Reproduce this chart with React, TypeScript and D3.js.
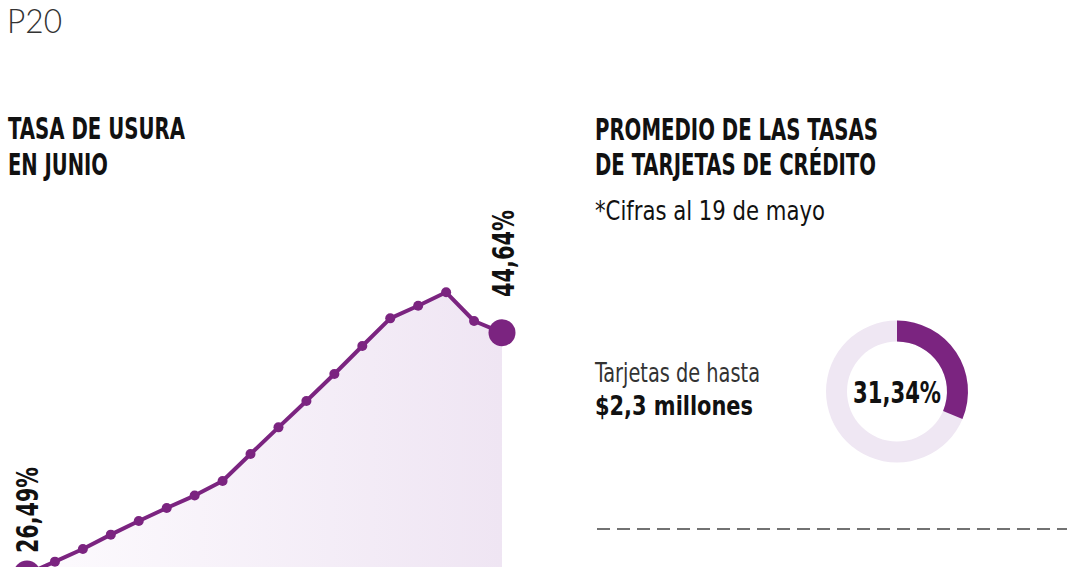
import React from "react";
import * as d3 from "d3";

// tasa de usura, enero 2022 - junio 2023
const months = [
  "ene-22", "feb-22", "mar-22", "abr-22", "may-22", "jun-22",
  "jul-22", "ago-22", "sep-22", "oct-22", "nov-22", "dic-22",
  "ene-23", "feb-23", "mar-23", "abr-23", "may-23", "jun-23",
];
const usura = [
  26.49, 27.42, 28.37, 29.45, 30.48, 31.45,
  32.39, 33.49, 35.52, 37.52, 39.5, 41.53,
  43.64, 45.72, 46.67, 47.68, 45.52, 44.64,
];
const highlightLabels = ["26,49%", "44,64%"];

// promedio tarjetas de crédito
const donutValue = 31.34;
const donutLabel = "31,34%";

const W = 1080;
const H = 567;
const PURPLE = "#7b2480";
const LIGHT = "#efe7f3";
const FONT = "'Liberation Sans Narrow', 'DejaVu Sans Condensed', 'Roboto', sans-serif";

const App = () => {
  const data = months.map((m, i) => ({ m, v: usura[i] }));

  const x = d3.scalePoint<string>().domain(months).range([27, 502]);
  const y = d3
    .scaleLinear()
    .domain([usura[0], usura[usura.length - 1]])
    .range([574, 332.7]);

  const line = d3
    .line<{ m: string; v: number }>()
    .x((d) => x(d.m)!)
    .y((d) => y(d.v));

  const area = d3
    .area<{ m: string; v: number }>()
    .x((d) => x(d.m)!)
    .y0(H + 40)
    .y1((d) => y(d.v));

  const first = data[0];
  const last = data[data.length - 1];

  // dona
  const cx = 897;
  const cy = 391.5;
  const arc = d3.arc().innerRadius(50).outerRadius(71);
  const angle = d3.scaleLinear().domain([0, 100]).range([0, 2 * Math.PI]);

  return (
    <svg
      width={W}
      height={H}
      style={{ position: "absolute", left: 0, top: 0, background: "#fff" }}
      fontFamily={FONT}
    >
      <defs>
        <linearGradient id="areaFill" gradientUnits="userSpaceOnUse" x1={x(first.m)} x2={x(last.m)} y1={0} y2={0}>
          <stop offset="0%" stopColor="#fdfbfe" />
          <stop offset="100%" stopColor="#efe5f3" />
        </linearGradient>
      </defs>

      <text x={7} y={33} fontSize={34} fontWeight={300} fill="#333" textLength={55} lengthAdjust="spacingAndGlyphs"
        fontFamily="Lato, 'Open Sans', sans-serif">
        P20
      </text>

      {/* titulo izquierdo */}
      <g fontWeight="bold" fontSize={30} fill="#111">
        <text x={8} y={139} textLength={177} lengthAdjust="spacingAndGlyphs">TASA DE USURA</text>
        <text x={8} y={175} textLength={100} lengthAdjust="spacingAndGlyphs">EN JUNIO</text>
      </g>

      {/* area y linea */}
      <path d={area(data)!} fill="url(#areaFill)" />
      <path d={line(data)!} fill="none" stroke={PURPLE} strokeWidth={4} strokeLinejoin="round" />
      {data.slice(1, -1).map((d) => (
        <circle key={d.m} cx={x(d.m)} cy={y(d.v)} r={5} fill={PURPLE} />
      ))}
      <circle cx={x(first.m)} cy={y(first.v)} r={13.5} fill={PURPLE} />
      <circle cx={x(last.m)} cy={y(last.v)} r={13.5} fill={PURPLE} />

      <g fontWeight="bold" fontSize={31} fill="#111">
        <text transform={`translate(${x(first.m)! + 11},553) rotate(-90)`} textLength={86} lengthAdjust="spacingAndGlyphs">
          {highlightLabels[0]}
        </text>
        <text transform={`translate(${x(last.m)! + 12},297) rotate(-90)`} textLength={87} lengthAdjust="spacingAndGlyphs">
          {highlightLabels[1]}
        </text>
      </g>

      {/* titulo derecho */}
      <g fontWeight="bold" fontSize={30} fill="#111">
        <text x={595} y={140} textLength={283} lengthAdjust="spacingAndGlyphs">PROMEDIO DE LAS TASAS</text>
        <text x={595} y={175} textLength={281} lengthAdjust="spacingAndGlyphs">DE TARJETAS DE CRÉDITO</text>
      </g>
      <text x={595} y={220} fontSize={27} fill="#111" textLength={230} lengthAdjust="spacingAndGlyphs">
        *Cifras al 19 de mayo
      </text>

      <text x={595} y={382} fontSize={27} fontWeight={300} fill="#333" textLength={165} lengthAdjust="spacingAndGlyphs">
        Tarjetas de hasta
      </text>
      <text x={595} y={415} fontSize={27} fontWeight="bold" fill="#111" textLength={158} lengthAdjust="spacingAndGlyphs">
        $2,3 millones
      </text>

      {/* dona */}
      <g transform={`translate(${cx},${cy})`}>
        <path d={arc({ innerRadius: 50, outerRadius: 71, startAngle: 0, endAngle: 2 * Math.PI } as any)!} fill={LIGHT} />
        <path
          d={arc({ innerRadius: 50, outerRadius: 71, startAngle: 0, endAngle: angle(donutValue) } as any)!}
          fill={PURPLE}
        />
        <text x={0} y={11.5} textAnchor="middle" fontSize={30} fontWeight="bold" fill="#111" textLength={88}
          lengthAdjust="spacingAndGlyphs">
          {donutLabel}
        </text>
      </g>

      <line x1={597} x2={1067} y1={529} y2={529} stroke="#444" strokeWidth={1.5} strokeDasharray="13 7" />
    </svg>
  );
};

export default App;
